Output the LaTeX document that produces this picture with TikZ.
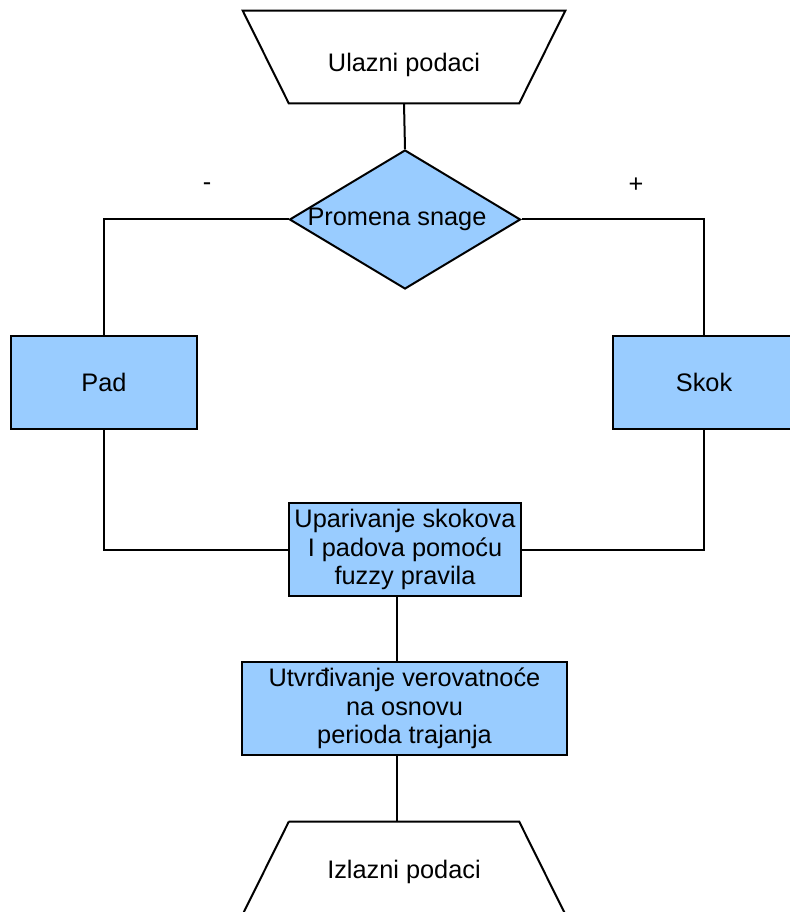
\documentclass[tikz,border=0pt]{standalone}
\usepackage{fontspec}
\setmainfont{Liberation Sans}
\usetikzlibrary{shapes.geometric}
\definecolor{plava}{HTML}{99CCFF}

\begin{document}
\begin{tikzpicture}[x=0.75pt,y=-0.75pt,
		tekst/.style={font=\fontsize{19}{21.4}\selectfont},
		linija/.style={line width=1.5pt},
		blok/.style={draw, line width=1.5pt, fill=plava, inner sep=0pt, align=center, tekst},
		okvir/.style={minimum width=241.5pt, minimum height=69pt, inner sep=0pt, tekst},
		romb/.style={draw, line width=1.5pt, diamond, fill=plava, minimum width=173.25pt, minimum height=104.25pt, inner sep=0pt}]
	
	\useasboundingbox (0,0) rectangle (789,912);
	
	% Ulaz i odluka
	\node[okvir, label={[tekst, yshift=-6pt]center:Ulazni podaci}] (ulaz) at (404,57) {};
	\draw[linija, line join=miter] (ulaz.north west) -- (ulaz.north east) -- ([xshift=-34.5pt]ulaz.south east)
		-- ([xshift=34.5pt]ulaz.south west) -- cycle;
	\node[romb, label={[tekst, xshift=-6pt]center:Promena snage}] (promena) at (405,219.5) {};
	\node[tekst] (minus) at (207,187) {-};
	\node[tekst] (plus) at (636,185) {+};
	
	% Grane
	\node[blok, minimum width=139.5pt, minimum height=69.75pt] (pad) at (104,382.5) {Pad};
	\node[blok, minimum width=136.5pt, minimum height=69.75pt] (skok) at (704,382.5) {Skok};
	
	% Obrada
	\node[blok, minimum width=174pt, minimum height=69.75pt] (uparivanje) at (405,549.5)
		{Uparivanje skokova\\I padova pomoću\\fuzzy pravila};
	\node[blok, minimum width=243.75pt, minimum height=69.75pt] (verovatnoca) at (404.5,708.5)
		{Utvrđivanje verovatnoće\\na osnovu\\perioda trajanja};
	
	% Izlaz
	\node[okvir, label={[tekst, yshift=-3pt]center:Izlazni podaci}] (izlaz) at (404,868) {};
	\draw[linija] ([xshift=34.5pt]izlaz.north west) -- ([xshift=-34.5pt]izlaz.north east)
		-- (izlaz.south east) (izlaz.south west) -- ([xshift=34.5pt]izlaz.north west);
	
	% Veze
	\draw[linija] (ulaz.south) -- (promena.north);
	\draw[linija] (promena.west) -| (pad.north);
	\draw[linija] (promena.east) -| (skok.north);
	\draw[linija] (pad.south) |- (uparivanje.west);
	\draw[linija] (skok.south) |- (uparivanje.east);
	\draw[linija] ([xshift=-6pt]uparivanje.south) -- ([xshift=-6pt]uparivanje.south |- verovatnoca.north);
	\draw[linija] ([xshift=-5.6pt]verovatnoca.south) -- ([xshift=-5.6pt]verovatnoca.south |- izlaz.north);
	
\end{tikzpicture}
\end{document}
